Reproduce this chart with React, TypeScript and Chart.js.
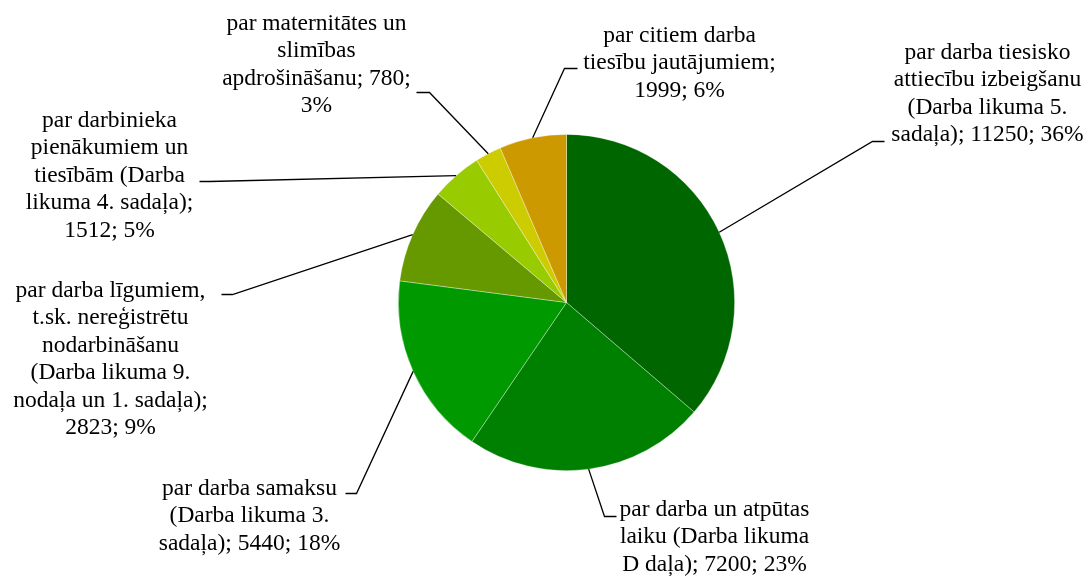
import React, { useEffect, useRef } from "react";
import { Chart, registerables } from "chart.js";
Chart.register(...registerables);

const categories = [
  "par darba tiesisko attiecību izbeigšanu (Darba likuma 5. sadaļa)",
  "par darba un atpūtas laiku (Darba likuma D daļa)",
  "par darba samaksu (Darba likuma 3. sadaļa)",
  "par darba līgumiem, t.sk. nereģistrētu nodarbināšanu (Darba likuma 9. nodaļa un 1. sadaļa)",
  "par darbinieka pienākumiem un tiesībām (Darba likuma 4. sadaļa)",
  "par maternitātes un slimības apdrošināšanu",
  "par citiem darba tiesību jautājumiem",
];
const values = [11250, 7200, 5440, 2823, 1512, 780, 1999];
const colors = ["#006600", "#008000", "#009900", "#669900", "#99CC00", "#CCCC00", "#CC9900"];

// words per wrapped label line
const wrapWords = [
  [3, 2, 3, 3],
  [4, 3, 4],
  [3, 3, 3],
  [3, 2, 1, 3, 4, 2],
  [2, 2, 2, 3, 2],
  [3, 1, 2, 1],
  [3, 2, 2],
];

// label placement relative to pie centre (px)
const labelLayout = [
  { cx: 421, y0: -244, ex: 306, ey: -161, hx: 12 },
  { cx: 148, y0: 213, ex: 38, ey: 214, hx: 12 },
  { cx: -317, y0: 192, ex: -210, ey: 191, hx: -11 },
  { cx: -456, y0: -6, ex: -334, ey: -8, hx: -11 },
  { cx: -457, y0: -176, ex: -357, ey: -121, hx: -10 },
  { cx: -250, y0: -273, ex: -137, ey: -210, hx: -13 },
  { cx: 113, y0: -261, ex: -2, ey: -234, hx: 13 },
];

const FONT = '23.5px "Liberation Serif", "Times New Roman", serif';
const LINE_H = 27.5;

function buildLines(i: number, total: number): string[] {
  const pct = Math.round((values[i] / total) * 100);
  const words = `${categories[i]}; ${values[i]}; ${pct}%`.split(" ");
  const out: string[] = [];
  let k = 0;
  for (const n of wrapWords[i]) {
    out.push(words.slice(k, k + n).join(" "));
    k += n;
  }
  if (k < words.length) out.push(words.slice(k).join(" "));
  return out;
}

const labelPlugin = {
  id: "pieLabels",
  afterDraw(chart: any) {
    const ctx = chart.ctx as CanvasRenderingContext2D;
    const meta = chart.getDatasetMeta(0);
    const total = values.reduce((a, b) => a + b, 0);
    ctx.save();
    meta.data.forEach((arc: any, i: number) => {
      const L = labelLayout[i];
      const cx = arc.x;
      const cy = arc.y;
      const mid = (arc.startAngle + arc.endAngle) / 2;
      const r = arc.outerRadius;
      const sx = cx + Math.cos(mid) * r;
      const sy = cy + Math.sin(mid) * r;
      const ex = cx + L.ex;
      const ey = cy + L.ey;
      ctx.strokeStyle = "#000";
      ctx.lineWidth = 1.3;
      ctx.beginPath();
      ctx.moveTo(sx, sy);
      ctx.lineTo(ex, ey);
      ctx.lineTo(ex + L.hx, ey);
      ctx.stroke();
      ctx.fillStyle = "#000";
      ctx.font = FONT;
      ctx.textAlign = "center";
      ctx.textBaseline = "alphabetic";
      const lines = buildLines(i, total);
      lines.forEach((t, j) => {
        ctx.fillText(t, cx + L.cx, cy + L.y0 + j * LINE_H);
      });
    });
    ctx.restore();
  },
};

export default function App() {
  const ref = useRef<HTMLCanvasElement | null>(null);
  useEffect(() => {
    document.body.style.margin = "0";
    if (!ref.current) return;
    const chart = new Chart(ref.current, {
      type: "pie",
      data: {
        labels: categories,
        datasets: [
          {
            data: values,
            backgroundColor: colors,
            borderColor: "rgba(255,255,255,0.45)",
            borderWidth: 0.75,
          },
        ],
      },
      options: {
        responsive: false,
        animation: false,
        devicePixelRatio: 1,
        layout: { padding: { left: 398, right: 356, top: 134, bottom: 105 } },
        plugins: {
          legend: { display: false },
          tooltip: { enabled: false },
        },
      },
      plugins: [labelPlugin],
    });
    return () => chart.destroy();
  }, []);
  return (
    <div style={{ width: 1091, height: 576, background: "#fff" }}>
      <canvas ref={ref} width={1091} height={576} />
    </div>
  );
}
